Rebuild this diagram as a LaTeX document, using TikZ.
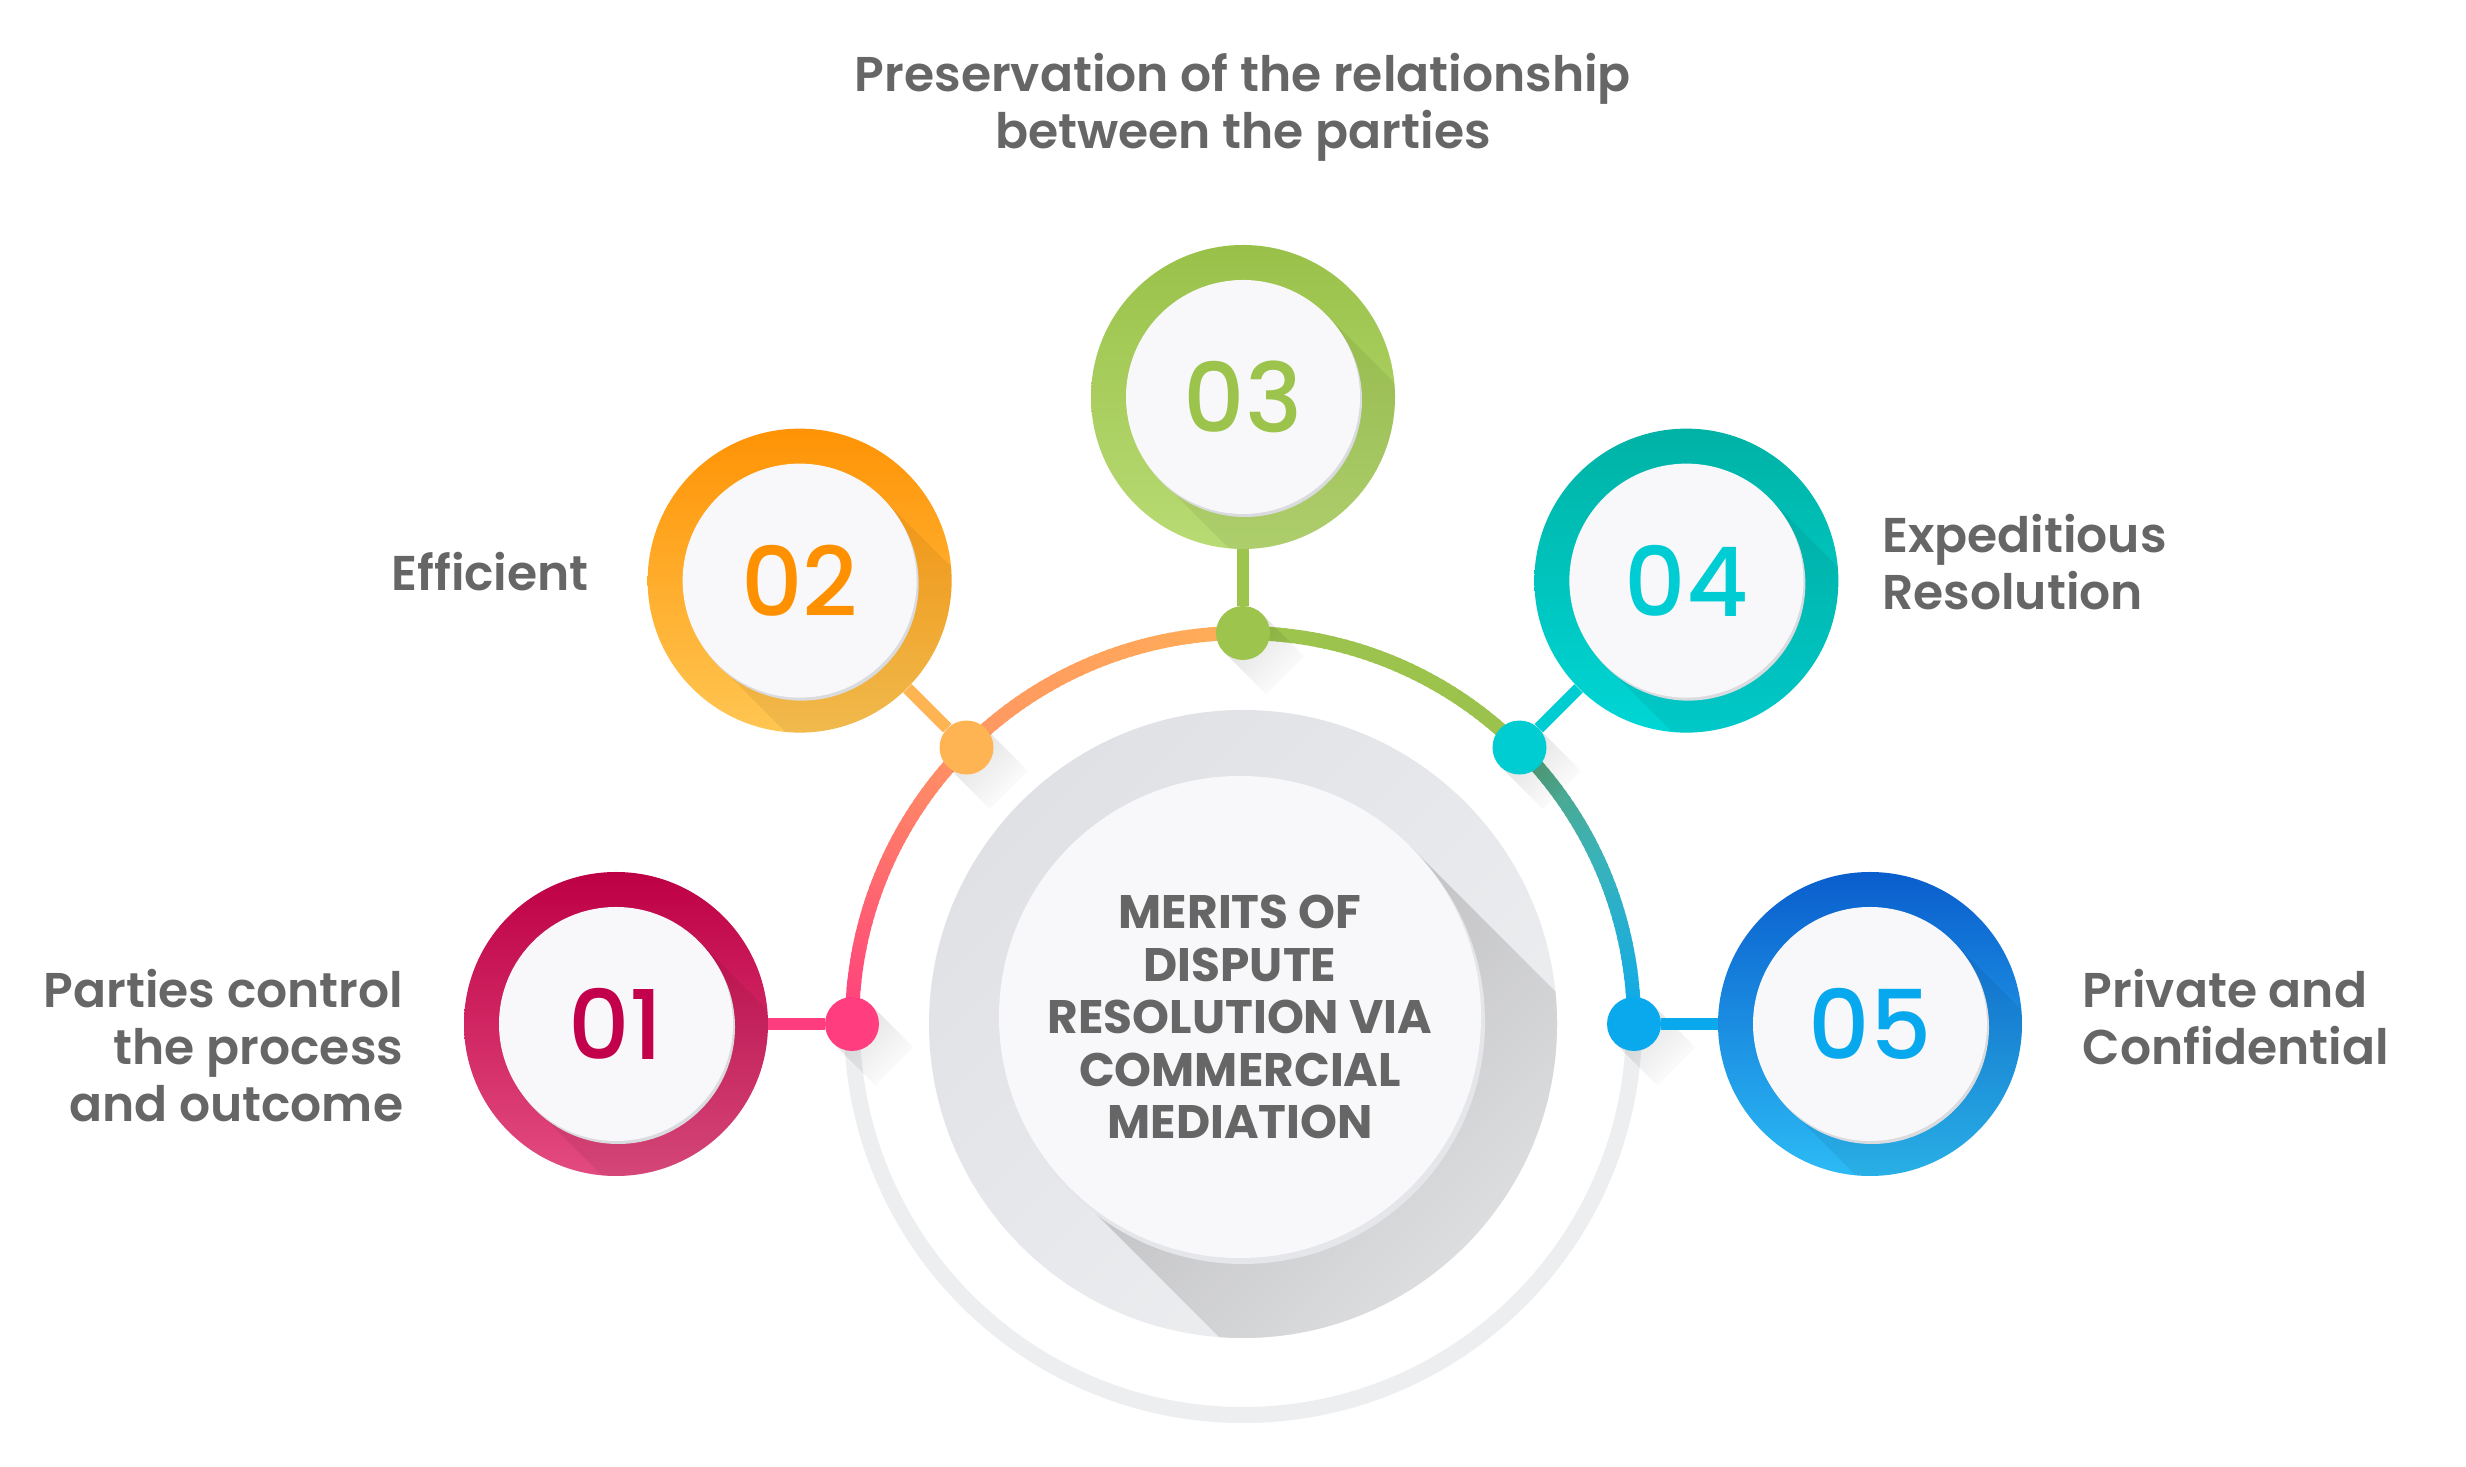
\documentclass[tikz,border=0pt]{standalone}
\usepackage{fontspec}
\setmainfont{Poppins}
\newfontfamily\labfont{Poppins SemiBold}
\newfontfamily\numfont{Poppins Medium}
\newfontfamily\corefont{Poppins Bold}
\usetikzlibrary{positioning, calc, fadings}

\definecolor{txtgray}{HTML}{666666}
\definecolor{ringgray}{HTML}{EDEEF0}
\definecolor{platelo}{HTML}{E0E1E5}
\definecolor{platehi}{HTML}{EEEFF1}
\definecolor{shdark}{HTML}{B8B8BB}
\definecolor{inwhite}{HTML}{F8F8FA}
\definecolor{ringedge}{HTML}{DADBDF}
% arc colour stops
\definecolor{arcA}{HTML}{FF3D7F}
\definecolor{arcB}{HTML}{FF6670}
\definecolor{arcC}{HTML}{FF9663}
\definecolor{arcD}{HTML}{FFAE57}
\definecolor{arcE}{HTML}{9DC44D}
\definecolor{arcF}{HTML}{9BC24C}
\definecolor{arcG}{HTML}{5A9E6E}
\definecolor{arcH}{HTML}{3AB3B8}
\definecolor{arcI}{HTML}{0DAAEC}
% rings, numbers, dots
\definecolor{ringAdark}{HTML}{BD0044}\definecolor{ringAlight}{HTML}{E34B80}
\definecolor{ringBdark}{HTML}{FF9305}\definecolor{ringBlight}{HTML}{FFC652}
\definecolor{ringCdark}{HTML}{99C149}\definecolor{ringClight}{HTML}{B9DB74}
\definecolor{ringDdark}{HTML}{00B2A5}\definecolor{ringDlight}{HTML}{00D6D6}
\definecolor{ringEdark}{HTML}{0A5ECD}\definecolor{ringElight}{HTML}{2CBBF5}
\definecolor{numA}{HTML}{C2004B}\definecolor{dotA}{HTML}{FF3D7F}
\definecolor{numB}{HTML}{FF9000}\definecolor{dotB}{HTML}{FFB454}
\definecolor{numC}{HTML}{9CC44C}\definecolor{dotC}{HTML}{9DC44D}
\definecolor{numD}{HTML}{00CCD3}\definecolor{dotD}{HTML}{00CDD2}
\definecolor{numE}{HTML}{08A8EE}\definecolor{dotE}{HTML}{0AA9EE}

\tikzfading[name=fadeaway, left color=transparent!0, right color=transparent!100]

\begin{document}
\begin{tikzpicture}[x=0.5pt, y=0.5pt,
  bigarc/.style={line width=7pt},
  greyring/.style={line width=8pt, ringgray},
  numring/.style={circle, minimum size=152pt, inner sep=0pt, shading angle=45,
                  font=\numfont\fontsize{48}{48}\selectfont,
                  path picture={
                    \fill[black, fill opacity=.06]
                      ($(path picture bounding box.center)+(45:117)$) -- ++(-45:320)
                      -- ++(225:234) -- ($(path picture bounding box.center)+(225:117)$) -- cycle;
                    \fill[ringedge] ($(path picture bounding box.center)+(2,-3)$) circle (117);
                    \fill[inwhite] (path picture bounding box.center) circle (117);
                  }},
  dotnode/.style={circle, minimum size=27pt, inner sep=0pt},
  dotshade/.style={black, opacity=.13, path fading=fadeaway, fading angle=-45},
  link/.style={line width=6pt},
  merit/.style={font=\labfont\fontsize{24.4}{28.5}\selectfont, text=txtgray, inner sep=0pt},
  coretext/.style={font=\corefont\fontsize{23.5}{26.25}\selectfont, text=txtgray,
                   align=center, inner sep=0pt}
]
\fill[white] (0,0) rectangle (2466,1466);
\coordinate (O) at (1243,442);
\coordinate (W) at (1240,449);

% lower grey half ring
\draw[greyring] ($(O)+(180:391)$) arc[start angle=180, end angle=360, radius=391];

% coloured upper half, drawn in small steps
\foreach \sa/\ea/\ca/\cb in {180/160/arcA/arcB, 160/135/arcB/arcC, 135/90/arcC/arcD,
                             90/45/arcE/arcF, 45/25/arcG/arcH, 25/0/arcH/arcI}{
  \pgfmathtruncatemacro\nseg{\sa-\ea}
  \foreach \k in {1,...,\nseg}{
    \pgfmathtruncatemacro\pc{100*\k/\nseg}
    \draw[bigarc, draw=\cb!\pc!\ca] ($(O)+(\sa-\k+1:391)$)
      arc[start angle=\sa-\k+1, end angle=\sa-\k-0.4, radius=391];
  }
}

% centre plate
\shade[top color=platelo, bottom color=platehi, shading angle=45] (O) circle (314);
\begin{scope}
  \clip (O) circle (314);
  \shade[top color=shdark, bottom color=platehi, shading angle=45]
    ($(W)+(45:241)$) -- ++(-45:420) -- ++(225:482) -- ($(W)+(225:241)$) -- cycle;
\end{scope}
\fill[ringedge!70!white] ($(W)+(3,-5)$) circle (242);
\fill[inwhite] (W) circle (241);
\node[coretext] (core) at (W) {MERITS OF\\DISPUTE\\RESOLUTION VIA\\COMMERCIAL\\MEDIATION};

% numbered rings with their dots
\foreach \i/\ang/\cd/\cl/\cn/\cdt in {1/180/ringAdark/ringAlight/numA/dotA,
                                      2/135/ringBdark/ringBlight/numB/dotB,
                                      3/90/ringCdark/ringClight/numC/dotC,
                                      4/45/ringDdark/ringDlight/numD/dotD,
                                      5/0/ringEdark/ringElight/numE/dotE}{
  \fill[dotshade] ($(O)+(\ang:391)+(45:27)$) -- ++(-45:60) -- ++(225:54)
    -- ($(O)+(\ang:391)+(225:27)$) -- cycle;
  \node[dotnode, fill=\cdt] (d\i) at ($(O)+(\ang:391)$) {};
  \node[numring, top color=\cd, bottom color=\cl, text=\cn] (n\i) at ($(O)+(\ang:627)$) {0\i};
  \draw[link, \cdt] (d\i) -- (n\i);
}

% texts
\node[merit, align=center, above=41.5pt of n3] (t3) {Preservation of the relationship\\between the parties};
\node[merit, align=right, left=29pt of n2, yshift=4.5pt] (t2) {Efficient};
\node[merit, align=right, left=30pt of n1, yshift=-11pt] (t1) {Parties control\\the process\\and outcome};
\node[merit, align=left, right=21.5pt of n4, yshift=9.5pt] (t4) {Expeditious\\Resolution};
\node[merit, align=left, right=30pt of n5, yshift=3.5pt] (t5) {Private and\\Confidential};
\end{tikzpicture}
\end{document}
